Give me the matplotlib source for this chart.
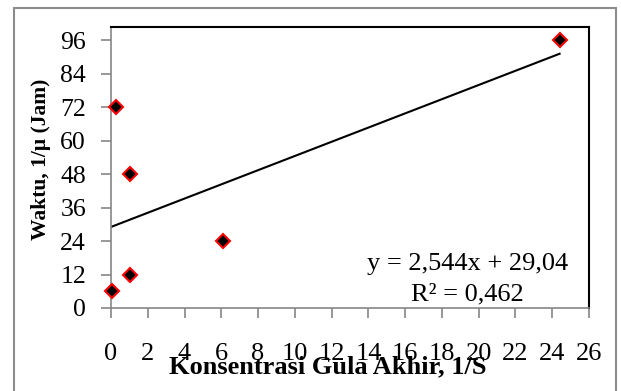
import matplotlib
matplotlib.use("Agg")
import matplotlib.pyplot as plt
from matplotlib.patches import Rectangle

x_vals = [0.05, 0.27, 1.03, 1.03, 6.1, 24.4]
y_vals = [6, 72, 48, 12, 24, 96]
slope = 2.544
intercept = 29.04
r2_text = "R² = 0,462"
eq_text = "y = 2,544x + 29,04"
x_ticks = list(range(0, 27, 2))
y_ticks = list(range(0, 97, 12))

plt.rcParams['font.family'] = ['Liberation Serif', 'DejaVu Serif']

fig = plt.figure(figsize=(6.21, 3.91), dpi=100)
W, H = 621, 391
# outer frame
fig.patches.append(Rectangle((14 / W, -0.05), (616 - 14) / W, 1.05 - 8 / H,
                             transform=fig.transFigure, fill=False,
                             edgecolor='#8c8c8c', linewidth=1.5))

ax = fig.add_axes([111 / W, 1 - 308 / H, (589 - 111) / W, (308 - 27) / H])
ax.set_xlim(0, 26)
ax.set_ylim(0, 100.7)
ax.set_xticks(x_ticks)
ax.set_yticks(y_ticks)

for s in ['left', 'bottom']:
    ax.spines[s].set_color('#868686')
    ax.spines[s].set_linewidth(1.2)
for s in ['top', 'right']:
    ax.spines[s].set_color('black')
    ax.spines[s].set_linewidth(1.5)

ax.tick_params(axis='both', direction='out', length=7, width=1.2, color='#868686')
ax.tick_params(axis='y', pad=11, labelsize=18.5)
ax.tick_params(axis='x', pad=18, labelsize=19)

# trendline
xs = [0, max(x_vals)]
ax.plot(xs, [intercept + slope * v for v in xs], color='black', linewidth=1.5, zorder=2)

ax.plot(x_vals, y_vals, linestyle='none', marker='D', markersize=7.5,
        markerfacecolor='black', markeredgecolor='red', markeredgewidth=1.5,
        zorder=3, clip_on=False)

fig.text(467.5 / W, 1 - 270 / H, eq_text, ha='center', va='baseline', fontsize=19)
fig.text(467 / W, 1 - 300 / H, r2_text, ha='center', va='baseline', fontsize=19)

fig.text(41 / W, 1 - 159 / H, "Waktu, 1/μ (Jam)", rotation=90, ha='center',
         va='center', fontsize=15.5, fontweight='bold')
fig.text(328 / W, 1 - 373 / H, "Konsentrasi Gula Akhir, 1/S", ha='center',
         va='baseline', fontsize=19, fontweight='bold')

fig.savefig("out.png", dpi=100)
